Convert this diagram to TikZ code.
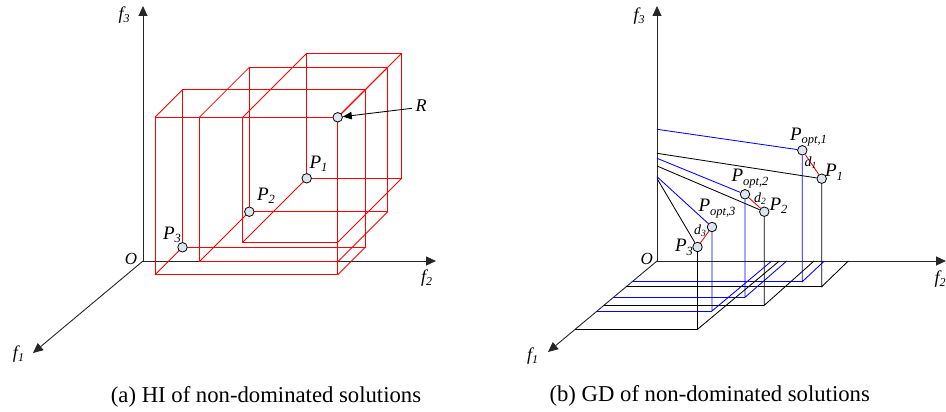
\documentclass[tikz,border=0pt]{standalone}
\usepackage{fontspec}
\setmainfont{Liberation Serif}
\usetikzlibrary{arrows.meta}
\definecolor{ptfill}{HTML}{DDE5F0}
\newcommand{\lab}[5]{{\fontsize{#1}{#1}\selectfont\itshape #2\raisebox{-#5pt}{\fontsize{#3}{#3}\selectfont\itshape #4}}}
\newcommand{\PL}[1]{\lab{19}{P}{12.5}{#1}{3.5}}
\newcommand{\POL}[1]{\lab{19}{P}{12.5}{opt,#1}{3.5}}
\newcommand{\FL}[1]{\lab{18}{f}{12}{#1}{3}}
\newcommand{\DL}[1]{\lab{14}{d}{9.5}{#1}{2}}
\newcommand{\redbox}[3]{%
  \draw[rd] (#1,#2) rectangle (337.7+#3,117.3-#3);
  \draw[rd] (#1-#3,#2+#3) rectangle (337.7,117.3);
  \draw[rd] (#1,#2) -- ++(-#3,#3);
  \draw[rd] (#1,117.3-#3) -- ++(-#3,#3);
  \draw[rd] (337.7+#3,117.3-#3) -- ++(-#3,#3);
  \draw[rd] (337.7+#3,#2) -- ++(-#3,#3);
}
\begin{document}
\begin{tikzpicture}[x=1pt,y=-1pt,
  ax/.style={line width=0.9pt, draw=black!85},
  axtip/.style={-{Triangle[length=10pt,width=9pt]}},
  rd/.style={draw=red, line width=0.85pt},
  bl/.style={draw=blue, line width=0.85pt},
  bk/.style={draw=black, line width=0.85pt},
  pt/.style={circle, draw=black, line width=0.8pt, fill=ptfill, inner sep=0pt, minimum size=9.5pt},
  lbl/.style={inner sep=0pt},
  captxt/.style={inner sep=0pt, font=\fontsize{22.7}{27}\selectfont}]
\useasboundingbox (0,0) rectangle (946,412);

% ---------------- (a) ----------------
\coordinate (O1) at (143,261);
\coordinate (a3) at (143,6);
\coordinate (a2) at (436,261);
\coordinate (a1) at (33,353);
\draw[ax,axtip] (O1) -- (a3);
\draw[ax,axtip] (O1) -- (a2);
\draw[ax,axtip] (O1) -- (a1);

\redbox{182.5}{247.3}{27.5}
\redbox{249.3}{211.7}{50}
\redbox{306.7}{178.3}{64}

\node[pt] (ap3) at (182.5,247.3) {};
\node[pt] (ap2) at (249.3,211.7) {};
\node[pt] (ap1) at (306.7,178.3) {};
\node[pt] (ar) at (337.7,117.3) {};
\coordinate (rs) at (412,108.3);
\draw[line width=0.85pt,-{Triangle[length=9pt,width=7.5pt]}] (rs) -- (ar);

\node[lbl] (lf3a) at (124,15) {\FL{3}};
\node[lbl] (lf2a) at (426.5,278.5) {\FL{2}};
\node[lbl] (lf1a) at (18.5,354) {\FL{1}};
\node[lbl] (loa) at (131,259) {\fontsize{17}{17}\selectfont\itshape O};
\node[lbl] (lp3a) at (172,235) {\PL{3}};
\node[lbl] (lp2a) at (266,196) {\PL{2}};
\node[lbl] (lp1a) at (318.5,164) {\PL{1}};
\node[lbl] (lra) at (421,106) {\fontsize{18}{18}\selectfont\itshape R};

\node[captxt] (capa) at (266,396.5) {(a) HI of non-dominated solutions};

% ---------------- (b) ----------------
\coordinate (O2) at (657,261);
\coordinate (b3) at (657,6);
\coordinate (b2) at (946,261);
\coordinate (b1) at (548,352);
\draw[ax,axtip] (O2) -- (b3);
\draw[ax,axtip] (O2) -- (b2);
\draw[ax,axtip] (O2) -- (b1);

\node[pt] (po1) at (802.3,150.3) {};
\node[pt] (p1)  at (821.7,178.7) {};
\node[pt] (po2) at (745,194.3) {};
\node[pt] (p2)  at (764.3,211.7) {};
\node[pt] (po3) at (712,227) {};
\node[pt] (p3)  at (697.5,247) {};

% projections on f3 axis
\coordinate (zo1) at (657,129.3);
\coordinate (z1)  at (657,153.3);
\coordinate (zo2) at (657,158.3);
\coordinate (z2)  at (657,166);
\coordinate (zo3) at (657,176.7);
\coordinate (z3)  at (657,178.5);
\draw[bl] (zo1) -- (po1);
\draw[bk] (z1) -- (p1);
\draw[bl] (zo2) -- (po2);
\draw[bk] (z2) -- (p2);
\draw[bl] (zo3) -- (po3);
\draw[bk] (z3) -- (p3);

% feet on the floor
\coordinate (fo1) at (802.3,281.7);
\coordinate (f1)  at (821.7,286.7);
\coordinate (fo2) at (745,297.3);
\coordinate (f2)  at (764.3,305.3);
\coordinate (fo3) at (712,311);
\coordinate (f3)  at (697.5,329.3);
% ends on f1 axis
\coordinate (xo1) at (632.2,281.7);
\coordinate (x1)  at (626.2,286.7);
\coordinate (xo2) at (613.4,297.3);
\coordinate (x2)  at (603.8,305.3);
\coordinate (xo3) at (597,311);
\coordinate (x3)  at (575,329.3);
% ends on f2 axis
\coordinate (yo1) at (824.3,261);
\coordinate (y1)  at (848.3,261);
\coordinate (yo2) at (786.7,261);
\coordinate (y2)  at (814,261);
\coordinate (yo3) at (771.7,261);
\coordinate (y3)  at (779.3,261);

\draw[bl] (po1) -- (fo1) -- (yo1);
\draw[bl] (xo1) -- (fo1);
\draw[bk] (p1) -- (f1) -- (y1);
\draw[bk] (x1) -- (f1);
\draw[bl] (po2) -- (fo2) -- (yo2);
\draw[bl] (xo2) -- (fo2);
\draw[bk] (p2) -- (f2) -- (y2);
\draw[bk] (x2) -- (f2);
\draw[bl] (po3) -- (fo3) -- (yo3);
\draw[bl] (xo3) -- (fo3);
\draw[bk] (p3) -- (f3) -- (y3);
\draw[bk] (x3) -- (f3);

% distances
\draw[rd] (po1) -- (p1);
\draw[rd] (po2) -- (p2);
\draw[rd] (po3) -- (p3);

\node[lbl] (lf3b) at (639,16.5) {\FL{3}};
\node[lbl] (lf2b) at (940,279) {\FL{2}};
\node[lbl] (lf1b) at (532.5,356.5) {\FL{1}};
\node[lbl] (lob) at (646.7,258.8) {\fontsize{17}{17}\selectfont\itshape O};
\node[lbl] (lpo1) at (808.5,137) {\POL{1}};
\node[lbl] (ld1) at (810.5,163) {\DL{1}};
\node[lbl] (lp1) at (834,172.5) {\PL{1}};
\node[lbl] (lpo2) at (750,178.5) {\POL{2}};
\node[lbl] (ld2) at (760,199) {\DL{2}};
\node[lbl] (lp2) at (778.5,206) {\PL{2}};
\node[lbl] (lpo3) at (717,208.5) {\POL{3}};
\node[lbl] (ld3) at (700,231) {\DL{3}};
\node[lbl] (lp3) at (684,247.5) {\PL{3}};

\node[captxt] (capb) at (709.7,396) {(b) GD of non-dominated solutions};
\end{tikzpicture}
\end{document}
